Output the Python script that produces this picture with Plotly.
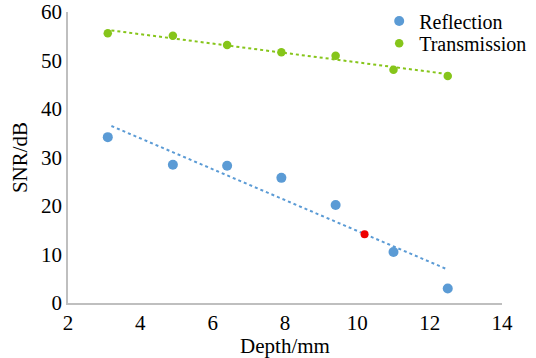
import plotly.graph_objects as go

# Data
depth_refl = [3.1, 4.9, 6.4, 7.9, 9.4, 11.0, 12.5]
snr_refl = [34.2, 28.5, 28.3, 25.8, 20.2, 10.5, 3.0]
depth_trans = [3.1, 4.9, 6.4, 7.9, 9.4, 11.0, 12.5]
snr_trans = [55.6, 55.1, 53.2, 51.7, 51.0, 48.1, 46.8]
marked_x = [10.2]
marked_y = [14.2]
trend_refl_x = [3.2, 12.5]
trend_refl_y = [36.5, 6.9]
trend_trans_x = [3.2, 12.5]
trend_trans_y = [56.2, 47.2]
x_ticks = [2, 4, 6, 8, 10, 12, 14]
y_ticks = [0, 10, 20, 30, 40, 50, 60]

BLUE = "#5b9bd5"
GREEN = "#86c51a"
RED = "#ee0000"
FONT = "Liberation Serif, Times New Roman, serif"

fig = go.Figure()
fig.add_trace(go.Scatter(x=trend_refl_x, y=trend_refl_y, mode="lines",
                         line=dict(color=BLUE, width=2, dash="dot"),
                         showlegend=False, hoverinfo="skip"))
fig.add_trace(go.Scatter(x=trend_trans_x, y=trend_trans_y, mode="lines",
                         line=dict(color=GREEN, width=2, dash="dot"),
                         showlegend=False, hoverinfo="skip"))
fig.add_trace(go.Scatter(x=depth_refl, y=snr_refl, mode="markers", name="Reflection",
                         marker=dict(color=BLUE, size=10), legend="legend"))
fig.add_trace(go.Scatter(x=depth_trans, y=snr_trans, mode="markers", name="Transmission",
                         marker=dict(color=GREEN, size=8.5), legend="legend2"))
fig.add_trace(go.Scatter(x=marked_x, y=marked_y, mode="markers",
                         marker=dict(color=RED, size=8), showlegend=False))

legend_common = dict(bgcolor="rgba(0,0,0,0)", borderwidth=0,
                     font=dict(family=FONT, size=20, color="#000"),
                     xanchor="left", yanchor="middle", itemwidth=30)

fig.update_layout(
    width=536, height=358,
    margin=dict(l=68, r=34, t=12, b=55, autoexpand=False),
    paper_bgcolor="white", plot_bgcolor="white",
    font=dict(family=FONT, size=21, color="#000"),
    legend=dict(x=0.717, y=0.969, **legend_common),
    legend2=dict(x=0.717, y=0.893, **legend_common),
    xaxis=dict(range=[2, 14], tickvals=x_ticks, showgrid=False, zeroline=False,
               showline=True, linecolor="#bfbfbf", linewidth=1.5, automargin=False,
               ticks="", ticklen=0, tickfont=dict(family=FONT, size=21),
               ticklabeloverflow="allow",
               title=dict(text="Depth/mm", font=dict(family=FONT, size=21), standoff=0)),
    yaxis=dict(range=[0, 60], tickvals=y_ticks, showgrid=False, zeroline=False,
               showline=True, linecolor="#bfbfbf", linewidth=1.5, automargin=False,
               ticks="", ticklen=0, tickfont=dict(family=FONT, size=21),
               ticklabeloverflow="allow",
               title=dict(text="SNR/dB", font=dict(family=FONT, size=21), standoff=8)),
)

fig.write_html("out.html", config={"displayModeBar": False},
               post_script="document.body.style.margin='0';document.body.style.overflow='hidden';")
